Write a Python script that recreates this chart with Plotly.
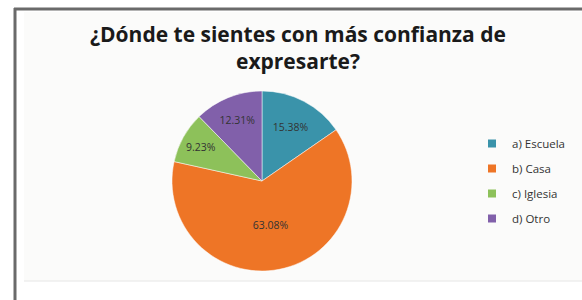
import plotly.graph_objects as go

categories = ["a) Escuela", "b) Casa", "c) Iglesia", "d) Otro"]
values = [15.38, 63.08, 9.23, 12.31]
colors = ["#3A93AA", "#EE7526", "#8DC15A", "#8160AA"]
title_text = "¿Dónde te sientes con más confianza de<br>expresarte?"

W, H = 582, 300

fig = go.Figure()
fig.add_trace(go.Pie(
    labels=categories,
    values=values,
    marker=dict(colors=colors, line=dict(color="white", width=0.5)),
    sort=False,
    direction="clockwise",
    rotation=0,
    texttemplate="%{percent:.2%}",
    textposition="inside",
    insidetextorientation="horizontal",
    textfont=dict(family="Open Sans", size=10.5, color="#333333"),
    domain=dict(x=[172 / W, 352 / W], y=[1 - 271 / H, 1 - 91 / H]),
    hoverinfo="label+percent",
    showlegend=False,
))

# legend entries (one group each so spacing can be set)
for name, col in zip(categories, colors):
    fig.add_trace(go.Scatter(
        x=[None], y=[None], mode="markers", name=name,
        legendgroup=name,
        marker=dict(symbol="square", size=8, color=col),
    ))

fig.update_xaxes(visible=False)
fig.update_yaxes(visible=False)

fig.update_layout(
    width=W, height=H,
    margin=dict(l=0, r=0, t=0, b=0),
    paper_bgcolor="white",
    plot_bgcolor="rgba(0,0,0,0)",
    title=dict(
        text="<b>" + title_text + "</b>",
        x=298 / W, xanchor="center",
        y=1 - 42 / H, yanchor="top",
        font=dict(family="Open Sans", size=21, color="#1a1a1a"),
    ),
    legend=dict(
        x=472 / W, xanchor="left",
        y=1 - 129 / H, yanchor="top",
        font=dict(family="Open Sans", size=11.5, color="#333333"),
        bgcolor="rgba(0,0,0,0)",
        itemwidth=30,
        tracegroupgap=6,
    ),
    shapes=[
        dict(type="rect", xref="paper", yref="paper",
             x0=24 / W, x1=1, y0=1 - 281 / H, y1=1 - 12 / H,
             fillcolor="#FBFBFA", line=dict(width=0), layer="below"),
        dict(type="line", xref="paper", yref="paper",
             x0=24 / W, x1=1, y0=1 - 281 / H, y1=1 - 281 / H,
             line=dict(color="#E6E6E6", width=1)),
        dict(type="line", xref="paper", yref="paper",
             x0=14 / W, x1=1, y0=1 - 9 / H, y1=1 - 9 / H,
             line=dict(color="#6A6A6A", width=3)),
        dict(type="line", xref="paper", yref="paper",
             x0=15 / W, x1=15 / W, y0=0, y1=1 - 8 / H,
             line=dict(color="#6A6A6A", width=3)),
    ],
)

fig.write_html(
    "out.html",
    config={"displayModeBar": False},
    post_script="document.body.style.margin='0';document.body.style.overflow='hidden';",
)
